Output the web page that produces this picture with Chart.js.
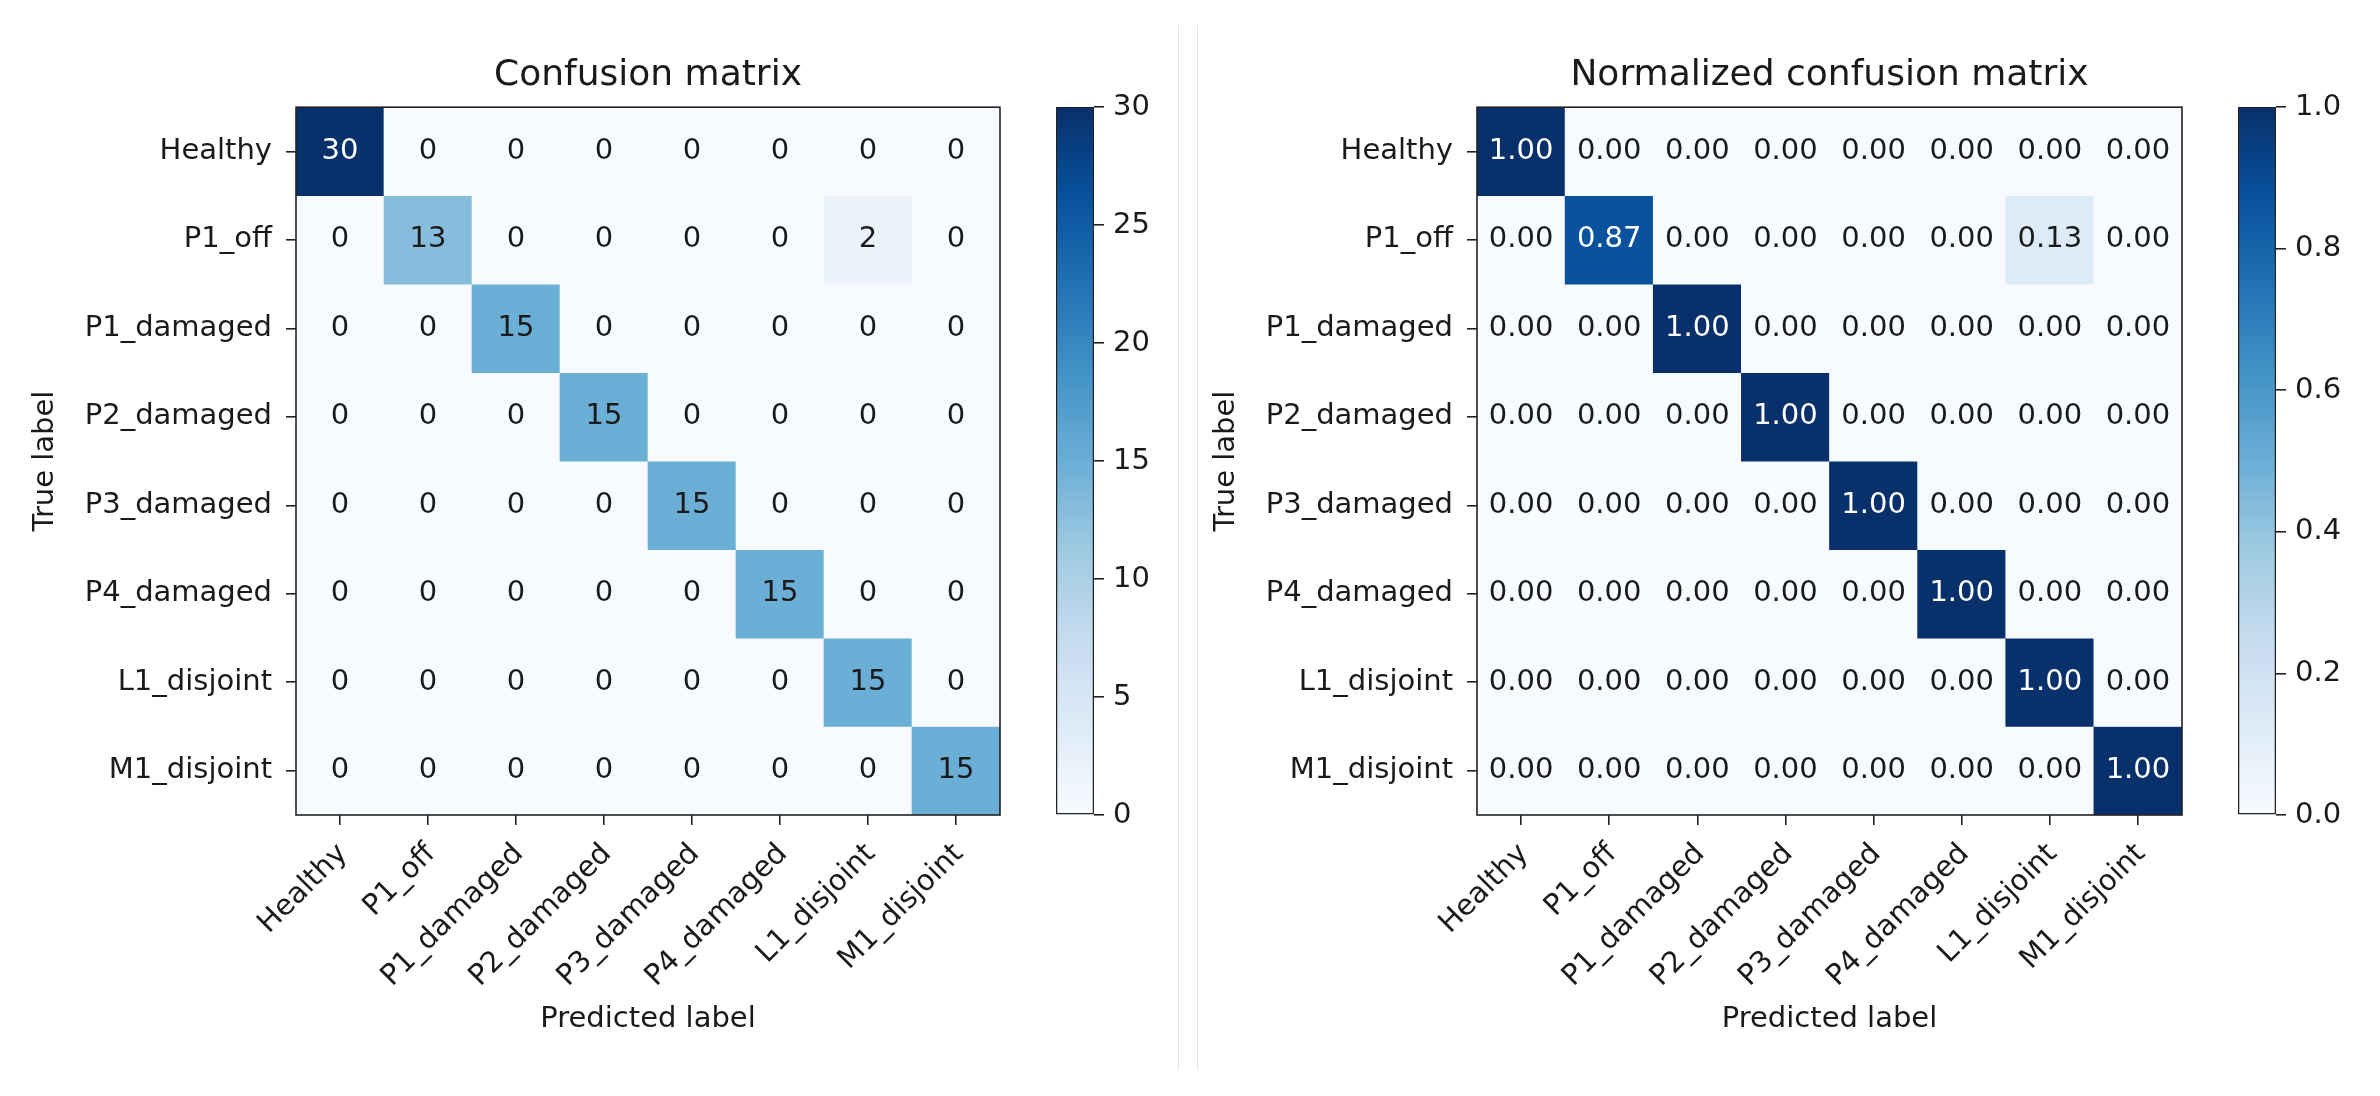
<!DOCTYPE html>
<html>
<head>
<meta charset="utf-8">
<script src="https://cdn.jsdelivr.net/npm/chart.js@4.4.1/dist/chart.umd.min.js"></script>
<style>
  body { margin: 0; background: #fff; }
  #page { position: relative; width: 2380px; height: 1096px; overflow: hidden; background: #fff; }
  canvas { position: absolute; top: 0; }
  .divider { position: absolute; top: 25px; height: 1045px; width: 1px; background: #e2e2e2; }
</style>
</head>
<body>
<div id="page">
  <div class="divider" style="left:1178px"></div>
  <div class="divider" style="left:1197px"></div>
  <canvas id="countsChart" style="left:0px" width="1010" height="1096"></canvas>
  <canvas id="countsBar" style="left:1000px" width="180" height="1096"></canvas>
  <canvas id="normChart" style="left:1181px" width="1011" height="1096"></canvas>
  <canvas id="normBar" style="left:2180px" width="200" height="1096"></canvas>
</div>
<script>
// class names, same order on both axes
const classNames = ["Healthy", "P1_off", "P1_damaged", "P2_damaged", "P3_damaged", "P4_damaged", "L1_disjoint", "M1_disjoint"];

// rows = true label, columns = predicted label
const counts = [
  [30, 0, 0, 0, 0, 0, 0, 0],
  [0, 13, 0, 0, 0, 0, 2, 0],
  [0, 0, 15, 0, 0, 0, 0, 0],
  [0, 0, 0, 15, 0, 0, 0, 0],
  [0, 0, 0, 0, 15, 0, 0, 0],
  [0, 0, 0, 0, 0, 15, 0, 0],
  [0, 0, 0, 0, 0, 0, 15, 0],
  [0, 0, 0, 0, 0, 0, 0, 15]
];

const normalized = [
  [1.00, 0.00, 0.00, 0.00, 0.00, 0.00, 0.00, 0.00],
  [0.00, 0.87, 0.00, 0.00, 0.00, 0.00, 0.13, 0.00],
  [0.00, 0.00, 1.00, 0.00, 0.00, 0.00, 0.00, 0.00],
  [0.00, 0.00, 0.00, 1.00, 0.00, 0.00, 0.00, 0.00],
  [0.00, 0.00, 0.00, 0.00, 1.00, 0.00, 0.00, 0.00],
  [0.00, 0.00, 0.00, 0.00, 0.00, 1.00, 0.00, 0.00],
  [0.00, 0.00, 0.00, 0.00, 0.00, 0.00, 1.00, 0.00],
  [0.00, 0.00, 0.00, 0.00, 0.00, 0.00, 0.00, 1.00]
];

const countTicks = [0, 5, 10, 15, 20, 25, 30];
const normTicks = [0, 0.2, 0.4, 0.6, 0.8, 1.0];

const FONT = "'DejaVu Sans', sans-serif";
const TEXT = "#1a1a1a";
const LINE = "#222";

// matplotlib "Blues"
const blues = ["#f7fbff", "#deebf7", "#c6dbef", "#9ecae1", "#6baed6", "#4292c6", "#2171b5", "#08519c", "#08306b"];

function hexToRgb(h) {
  return [parseInt(h.slice(1, 3), 16), parseInt(h.slice(3, 5), 16), parseInt(h.slice(5, 7), 16)];
}

function bluesColor(t) {
  t = Math.min(Math.max(t, 0), 1) * (blues.length - 1);
  const i = Math.min(Math.floor(t), blues.length - 2);
  const f = t - i;
  const a = hexToRgb(blues[i]);
  const b = hexToRgb(blues[i + 1]);
  const c = a.map((v, k) => Math.round(v + (b[k] - v) * f));
  return `rgb(${c[0]}, ${c[1]}, ${c[2]})`;
}

const frame = {
  id: "frame",
  afterDraw(chart) {
    const { ctx, chartArea } = chart;
    ctx.save();
    ctx.strokeStyle = LINE;
    ctx.lineWidth = 1.6;
    ctx.strokeRect(chartArea.left, chartArea.top, chartArea.right - chartArea.left, chartArea.bottom - chartArea.top);
    ctx.restore();
  }
};

function cellText(thresh, digits) {
  return {
    id: "cellText",
    afterDatasetsDraw(chart) {
      const ctx = chart.ctx;
      ctx.save();
      ctx.font = `29px ${FONT}`;
      ctx.textAlign = "center";
      ctx.textBaseline = "middle";
      chart.data.datasets.forEach((ds, i) => {
        chart.getDatasetMeta(i).data.forEach((bar, j) => {
          const v = ds.cellValues[j];
          ctx.fillStyle = v > thresh ? "#fff" : TEXT;
          ctx.fillText(v.toFixed(digits), bar.x, (bar.y + bar.base) / 2);
        });
      });
      ctx.restore();
    }
  };
}

function heatmap(id, title, values, vmax, digits) {
  new Chart(document.getElementById(id), {
    type: "bar",
    data: {
      labels: classNames,
      datasets: values.map((row, i) => ({
        data: row.map(() => [i - 0.5, i + 0.5]),
        cellValues: row,
        backgroundColor: row.map(v => bluesColor(v / vmax)),
        borderWidth: 0,
        grouped: false,
        barPercentage: 1,
        categoryPercentage: 1
      }))
    },
    options: {
      responsive: false,
      animation: false,
      layout: { padding: { right: 10 } },
      plugins: {
        legend: { display: false },
        tooltip: { enabled: false },
        title: {
          display: true,
          text: title,
          fullSize: false,
          color: TEXT,
          font: { family: FONT, size: 36, weight: "normal" },
          padding: { top: 54, bottom: 10 }
        }
      },
      scales: {
        x: {
          type: "category",
          afterFit: s => { s.height = 281; },
          border: { display: false },
          grid: { offset: false, drawOnChartArea: false, tickLength: 10, color: LINE, lineWidth: 1.6 },
          ticks: { autoSkip: false, minRotation: 45, maxRotation: 45, padding: 12, labelOffset: 3, color: TEXT, font: { family: FONT, size: 29 } },
          title: { display: true, text: "Predicted label", color: TEXT, font: { family: FONT, size: 29 }, padding: { top: 0, bottom: 59 } }
        },
        y: {
          type: "linear",
          reverse: true,
          min: -0.5,
          max: classNames.length - 0.5,
          afterBuildTicks: axis => { axis.ticks = classNames.map((_, i) => ({ value: i })); },
          afterFit: s => { s.width = 296; },
          border: { display: false },
          grid: { drawOnChartArea: false, tickLength: 10, color: LINE, lineWidth: 1.6 },
          ticks: { padding: 14, color: TEXT, font: { family: FONT, size: 29 }, callback: v => classNames[v] },
          title: { display: true, text: "True label", color: TEXT, font: { family: FONT, size: 29 }, padding: { top: 28, bottom: 0 } }
        }
      }
    },
    plugins: [cellText(vmax / 2, digits), frame]
  });
}

function colorbar(id, vmax, tickValues, digits, padLeft, axisWidth) {
  new Chart(document.getElementById(id), {
    type: "bar",
    data: {
      labels: [""],
      datasets: [{
        data: [[0, vmax]],
        backgroundColor: c => {
          const area = c.chart.chartArea;
          if (!area) return blues[4];
          const g = c.chart.ctx.createLinearGradient(0, area.bottom, 0, area.top);
          blues.forEach((col, i) => g.addColorStop(i / (blues.length - 1), col));
          return g;
        },
        borderColor: LINE,
        borderWidth: 1.6,
        borderSkipped: false,
        barPercentage: 1,
        categoryPercentage: 1
      }]
    },
    options: {
      responsive: false,
      animation: false,
      layout: { padding: { left: padLeft, top: 107, bottom: 281 } },
      plugins: { legend: { display: false }, tooltip: { enabled: false } },
      scales: {
        x: { display: false },
        y: {
          position: "right",
          min: 0,
          max: vmax,
          afterBuildTicks: axis => { axis.ticks = tickValues.map(v => ({ value: v })); },
          afterFit: s => { s.width = axisWidth; },
          border: { display: false },
          grid: { drawOnChartArea: false, tickLength: 10, color: LINE, lineWidth: 1.6 },
          ticks: { padding: 9, color: TEXT, font: { family: FONT, size: 29 }, callback: v => v.toFixed(digits) }
        }
      }
    }
  });
}

heatmap("countsChart", "Confusion matrix", counts, 30, 0);
colorbar("countsBar", 30, countTicks, 0, 56, 180 - 56 - 38);
heatmap("normChart", "Normalized confusion matrix", normalized, 1, 2);
colorbar("normBar", 1, normTicks, 1, 58, 200 - 58 - 38);
</script>
</body>
</html>
